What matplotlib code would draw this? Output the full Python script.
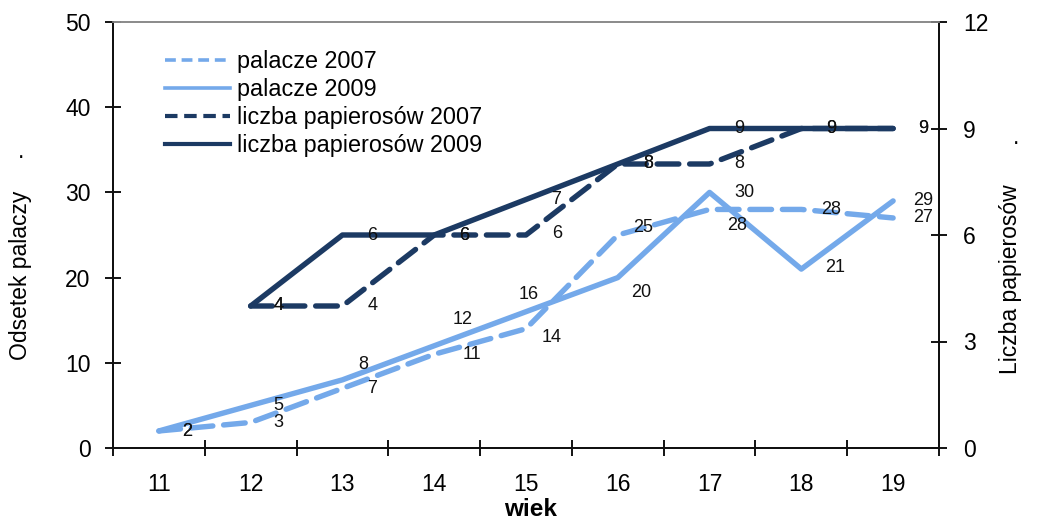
import matplotlib.pyplot as plt
from matplotlib.lines import Line2D
from matplotlib.ticker import FixedLocator, NullFormatter
import numpy as np

plt.rcParams['font.family'] = ['Liberation Sans', 'DejaVu Sans']

# data
wiek = ['11', '12', '13', '14', '15', '16', '17', '18', '19']
palacze_2007 = [2, 3, 7, 11, 14, 25, 28, 28, 27]
palacze_2009 = [2, 5, 8, 12, 16, 20, 30, 21, 29]
papierosy_2007 = [None, 4, 4, 6, 6, 8, 8, 9, 9]
papierosy_2009 = [None, 4, 6, 6, 7, 8, 9, 9, 9]

LIGHT = '#74a9ea'
DARK = '#1c3a63'

# label offsets in pixels (dx right, dy down); default is to the right
DEFAULT_OFF = (30, 0)
OFFSETS = {
    ('p07', 3): (38, 0), ('p07', 4): (26, 9), ('p07', 5): (25, -8),
    ('p07', 6): (28, 16), ('p07', 0): (28, 1), ('p07', 1): (28, 0),
    ('p09', 0): (28, 1), ('p09', 1): (28, 0), ('p09', 2): (21, -15),
    ('p09', 3): (28, -26), ('p09', 4): (3, -17), ('p09', 5): (23, 15),
    ('p09', 6): (35, 0), ('p09', 7): (34, -2),
    ('c07', 1): (28, 0), ('c09', 1): (28, 0), ('c07', 4): (31, -2),
}

fig = plt.figure(figsize=(10.38, 5.22), dpi=100)
ax = fig.add_axes([113 / 1038, 1 - 448 / 522, (939 - 113) / 1038, (448 - 22) / 522])
ax2 = ax.twinx()

x = np.arange(len(wiek))


def to_arr(vals):
    return np.array([np.nan if v is None else v for v in vals], dtype=float)


dash = (4, 2)
ax.plot(x, to_arr(palacze_2007), color=LIGHT, lw=3.9, dashes=dash,
        solid_capstyle='round', dash_capstyle='round', zorder=3)
ax.plot(x, to_arr(palacze_2009), color=LIGHT, lw=3.9,
        solid_capstyle='round', zorder=3)
ax2.plot(x, to_arr(papierosy_2007), color=DARK, lw=3.9, dashes=dash,
         dash_capstyle='round', zorder=3)
ax2.plot(x, to_arr(papierosy_2009), color=DARK, lw=3.9,
         solid_capstyle='round', zorder=3)


def labels(axis, key, vals):
    for i, v in enumerate(vals):
        if v is None:
            continue
        dx, dy = OFFSETS.get((key, i), DEFAULT_OFF)
        axis.annotate(str(v), (i, v), xytext=(dx * 0.72, -dy * 0.72),
                      textcoords='offset points', ha='center', va='center',
                      fontsize=13, color='#111111', zorder=5)


labels(ax, 'p07', palacze_2007)
labels(ax, 'p09', palacze_2009)
labels(ax2, 'c07', papierosy_2007)
labels(ax2, 'c09', papierosy_2009)

# axes
ax.set_xlim(-0.5, 8.5)
ax.set_ylim(0, 50)
ax2.set_ylim(0, 12)
ax.set_yticks([0, 10, 20, 30, 40, 50])
ax2.set_yticks([0, 3, 6, 9, 12])
ax.set_xticks(x)
ax.set_xticklabels(wiek)
ax.xaxis.set_minor_locator(FixedLocator(np.arange(-0.5, 9, 1)))
ax.xaxis.set_minor_formatter(NullFormatter())

for a in (ax, ax2):
    for s in a.spines.values():
        s.set_linewidth(1.4)
        s.set_color('#111111')
    a.spines['top'].set_color('#8a8a8a')
    a.spines['top'].set_linewidth(1.2)

ax.tick_params(axis='x', which='major', length=0, pad=18, labelsize=16.5)
ax.tick_params(axis='x', which='minor', direction='inout', length=11.5, width=1.3)
ax.tick_params(axis='y', direction='inout', length=11.5, width=1.3, pad=10.5, labelsize=16.5)
ax2.tick_params(axis='y', direction='inout', length=11.5, width=1.3, pad=11.5, labelsize=16.5)

# axis labels
fig.text(531 / 1038, 1 - 510 / 522, 'wiek', ha='center', va='center',
         fontsize=17.5, fontweight='bold')
fig.text(21 / 1038, 1 - 275 / 522, 'Odsetek palaczy', rotation=90,
         ha='center', va='center', fontsize=16.5)
fig.text(21 / 1038, 1 - 152 / 522, '.', ha='center', va='center', fontsize=16.5)
fig.text(1010 / 1038, 1 - 279 / 522, 'Liczba papierosów', rotation=90,
         ha='center', va='center', fontsize=16.5)
fig.text(1016 / 1038, 1 - 137 / 522, '.', ha='center', va='center', fontsize=16.5)

# legend
handles = [
    Line2D([], [], color=LIGHT, lw=2.6, dashes=(3, 1.6)),
    Line2D([], [], color=LIGHT, lw=2.6),
    Line2D([], [], color=DARK, lw=3.0, dashes=(3, 1.6)),
    Line2D([], [], color=DARK, lw=3.0),
]
names = ['palacze 2007', 'palacze 2009', 'liczba papierosów 2007', 'liczba papierosów 2009']
fig.legend(handles, names, loc='upper left', bbox_to_anchor=(165 / 1038, 1 - 50 / 522),
           frameon=False, fontsize=16.8, handlelength=2.8, handletextpad=0.3,
           labelspacing=0.22, borderpad=0, borderaxespad=0)

plt.savefig('out.png', dpi=100)
